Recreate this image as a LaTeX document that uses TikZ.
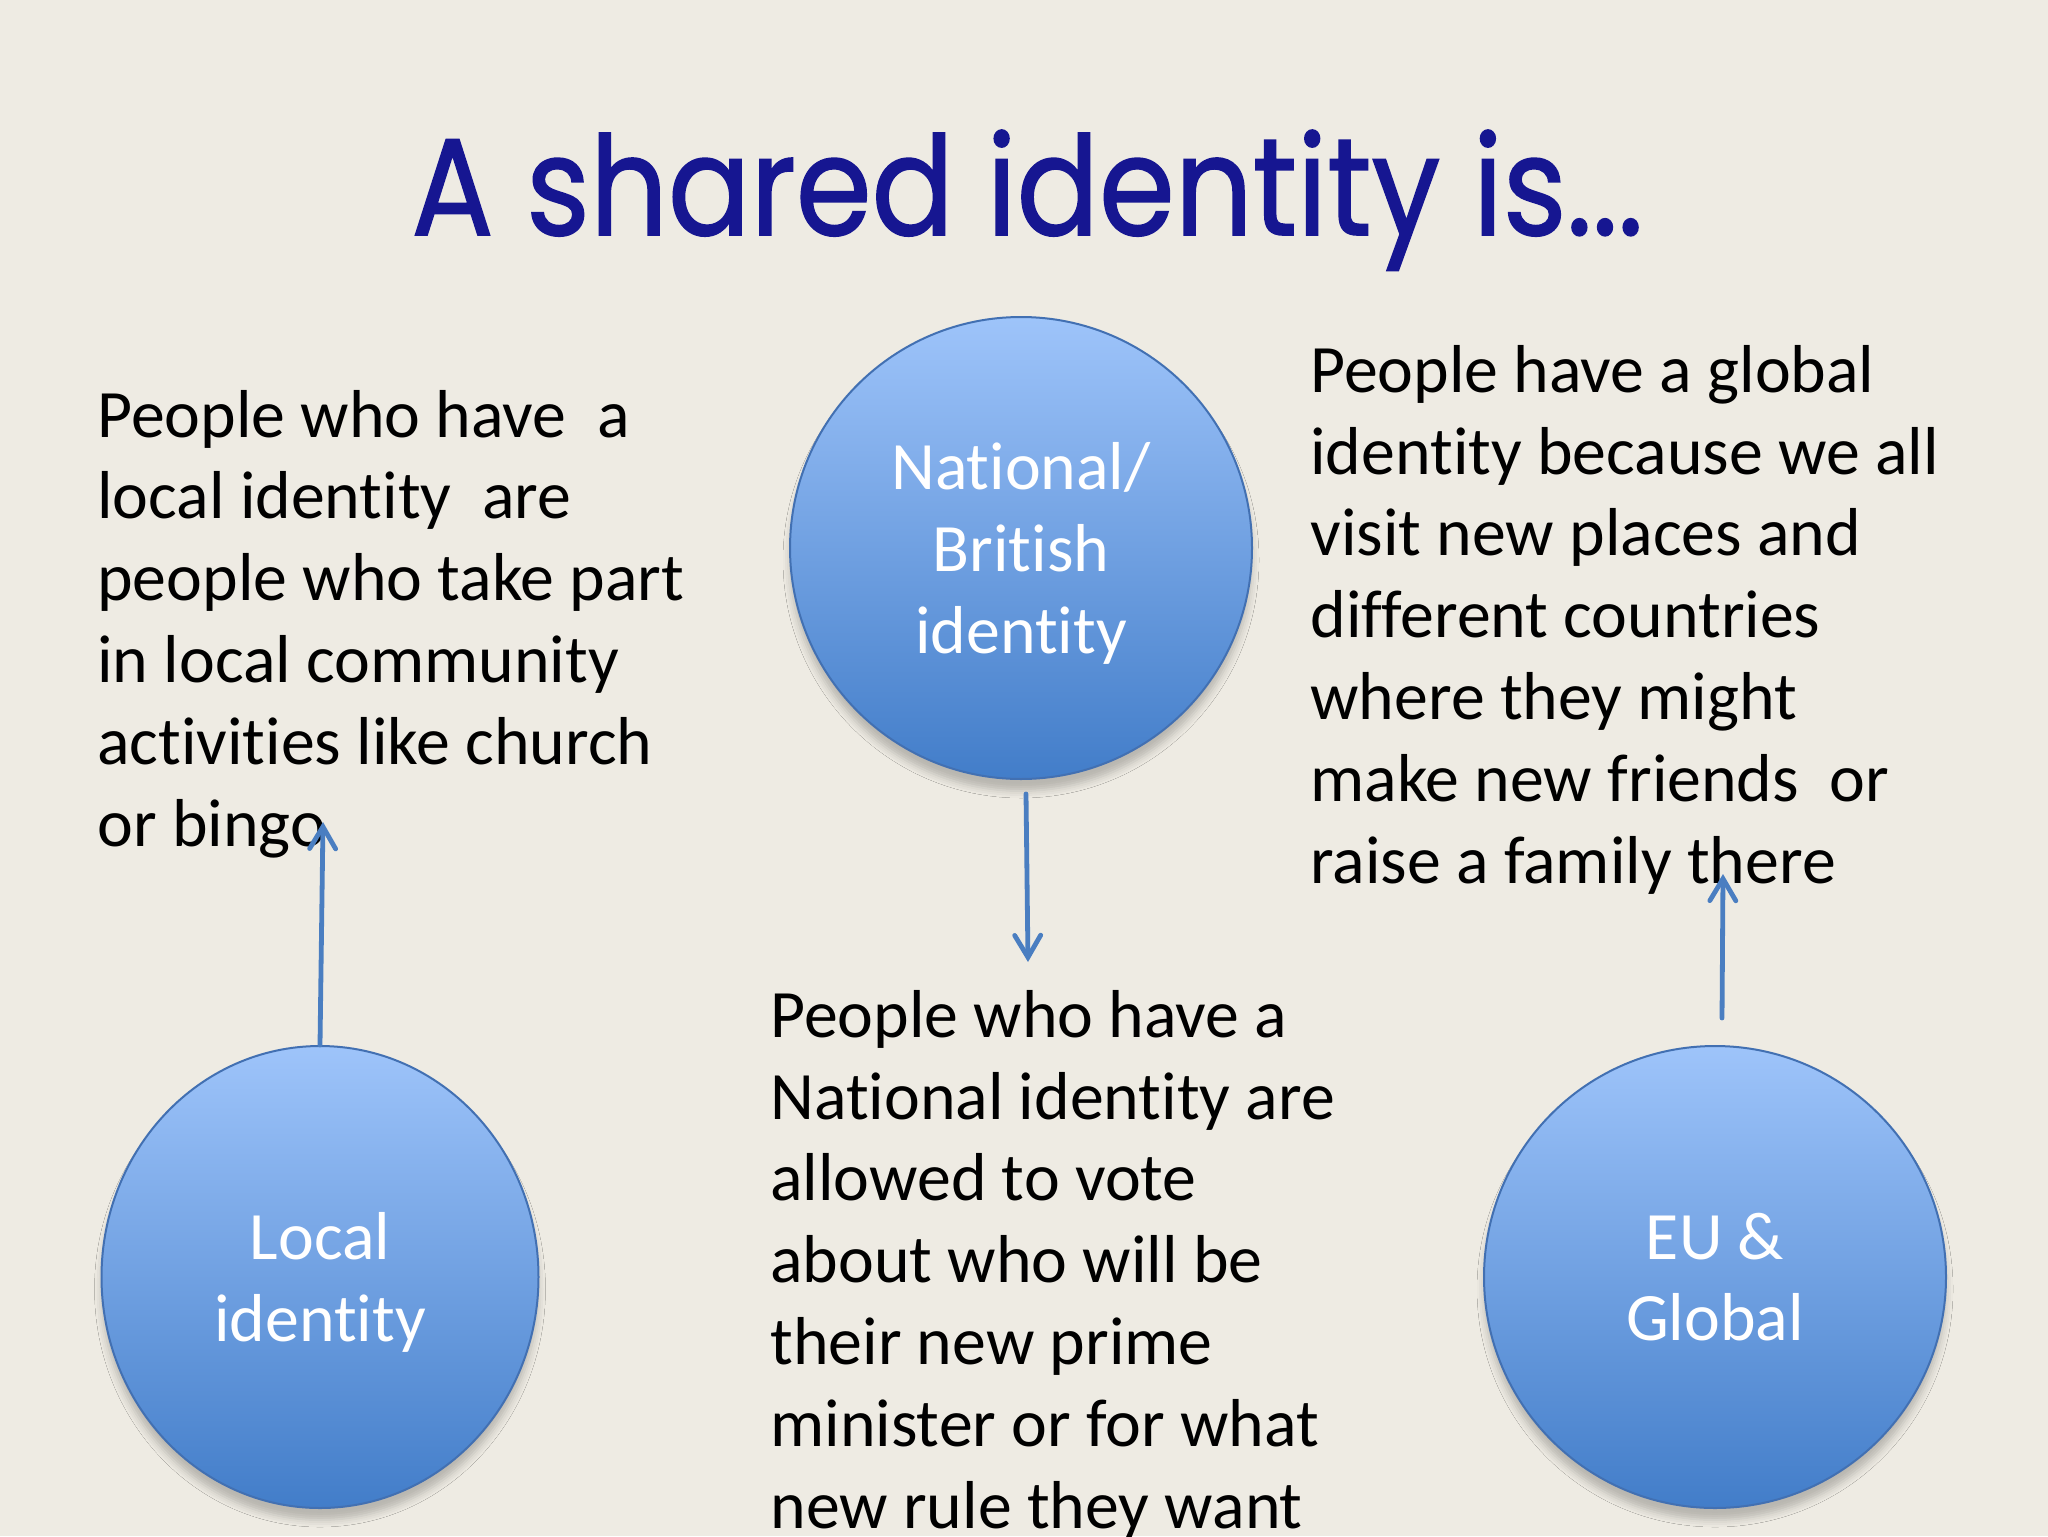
\documentclass[tikz,border=0pt]{standalone}
\usepackage{fontspec}
\usepackage{graphicx}
\setmainfont{Carlito}[Ligatures=NoCommon]
\newfontfamily\titlefont{Poppins}[FakeBold=1.2]
\usetikzlibrary{arrows.meta,shapes.geometric,shadows.blur}
\definecolor{bgc}{RGB}{238,235,227}
\definecolor{titleblue}{RGB}{22,22,145}
\definecolor{topblue}{RGB}{158,196,250}
\definecolor{botblue}{RGB}{66,125,201}
\definecolor{rimblue}{RGB}{66,112,178}
\definecolor{arrowblue}{RGB}{74,126,193}
\newcommand{\nodepth}[1]{\raisebox{0pt}[\height][0pt]{#1}}
\begin{document}
\begin{tikzpicture}[x=0.5pt,y=-0.5pt,
  bubble/.style={ellipse, inner sep=0pt, draw=rimblue, line width=1pt,
    top color=topblue, bottom color=botblue, text=white,
    font=\fontsize{33.9}{40.9}\selectfont, align=center,
    blur shadow={shadow xshift=0pt, shadow yshift=-6pt, shadow blur radius=3.5pt, shadow opacity=22}},
  bodytext/.style={anchor=base west, align=left, inner sep=0pt, text=black,
    font=\fontsize{33.9}{40.9}\selectfont},
  conn/.style={draw=arrowblue, line width=2.4pt, line cap=round,
    -{Straight Barb[length=11pt,width=13pt,line cap=round]}},
  titlestyle/.style={anchor=base west, inner sep=0pt, text=titleblue,
    font=\titlefont\fontsize{69}{80}\selectfont}]
\useasboundingbox (0,0) rectangle (2048,1536);
\fill[bgc] (0,0) rectangle (2048,1536);

\node[titlestyle] (title) at (411,235) {\resizebox{616pt}{\height}{A shared identity is...}};

\node[bubble, minimum width=231pt, minimum height=231pt] (nat) at (1021,548) {National/\\British\\\nodepth{identity}};
\node[bubble, minimum width=218.5pt, minimum height=231pt] (loc) at (320,1277) {Local\\\nodepth{identity}};
\node[bubble, minimum width=231pt, minimum height=231pt] (eu) at (1715,1277) {EU \&\\Global};

% base anchor of a multi-line node is the baseline of its last line
\node[bodytext] (ltext) at (97,846) {People who have\ \ a\\local identity\ \ are\\people who take part\\in local community\\activities like church\\or bingo};
\node[bodytext] (mtext) at (770,1528) {People who have a\\National identity are\\allowed to vote\\about who will be\\their new prime\\minister or for what\\new rule they want};
\node[bodytext] (rtext) at (1310,883) {People have a global\\identity because we all\\visit new places and\\different countries\\where they might\\make new friends\ \ or\\raise a family there};

\coordinate (lt) at (323,822);
\coordinate (ns) at (1026,794);
\coordinate (nt) at (1028,962);
\coordinate (es) at (1722,1018);
\coordinate (et) at (1723,874);

\draw[conn] (loc.north) -- (lt);
\draw[conn] (ns) -- (nt);
\draw[conn] (es) -- (et);
\end{tikzpicture}
\end{document}
